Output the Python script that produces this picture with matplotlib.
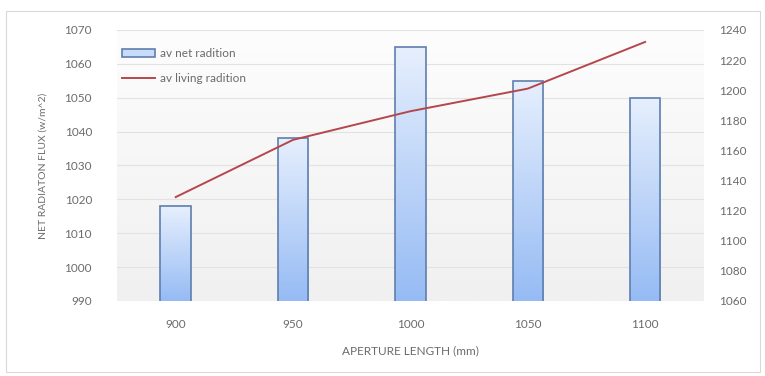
import numpy as np
import matplotlib.pyplot as plt
from matplotlib.patches import Rectangle
from matplotlib.colors import LinearSegmentedColormap

plt.rcParams['font.family'] = ['Lato', 'DejaVu Sans']

apertures = ['900', '950', '1000', '1050', '1100']
net_radiation = [1018, 1038, 1065, 1055, 1050]
living_radiation = [1129, 1167, 1186, 1201, 1232]

left_ticks = [990, 1000, 1010, 1020, 1030, 1040, 1050, 1060, 1070]
right_ticks = [1060, 1080, 1100, 1120, 1140, 1160, 1180, 1200, 1220, 1240]

txt = '#6b6b6b'
bar_edge = '#5f7fae'
line_col = '#b5474c'

fig = plt.figure(figsize=(7.65, 3.76), dpi=100)
fig.patches.append(Rectangle((0.008, 0.01), 0.986, 0.96, transform=fig.transFigure,
                             facecolor='none', edgecolor='#d9d9d9', lw=0.8))

ax = fig.add_axes([0.153, 0.1995, 0.767, 0.721])
x = np.arange(len(apertures))
xlim = (-0.5, len(apertures) - 0.5)

# plot area: soft vertical fade from light grey up to white
bg = LinearSegmentedColormap.from_list('bg', ['#f0f0f0', '#fdfdfd'])
ax.imshow(np.linspace(0, 1, 100).reshape(-1, 1), cmap=bg, aspect='auto',
          extent=[xlim[0], xlim[1], 990, 1070], origin='lower', zorder=0)
for t in left_ticks:
    ax.axhline(t, color='#e2e2e2', lw=0.8, zorder=1)

# bars: outline only, filled by a clipped blue gradient
grad = LinearSegmentedColormap.from_list('barfill', ['#96bbf4', '#e6effd'])
width = 0.26
bars = ax.bar(x, net_radiation, width=width, bottom=0, facecolor='none',
              edgecolor=bar_edge, lw=1.2, zorder=3)
for b, v in zip(bars, net_radiation):
    x0 = b.get_x()
    im = ax.imshow(np.linspace(0, 1, 100).reshape(-1, 1), cmap=grad, aspect='auto',
                   extent=[x0, x0 + width, 990, v], origin='lower', zorder=2)
    im.set_clip_path(b)
ax.set_ylim(990, 1070)
ax.set_xlim(*xlim)

ax.set_yticks(left_ticks)
ax.set_xticks(x)
ax.set_xticklabels(apertures)
ax.tick_params(axis='both', length=0, labelsize=8.5, labelcolor=txt)
ax.tick_params(axis='y', pad=18)
ax.tick_params(axis='x', pad=13)
for s in ax.spines.values():
    s.set_visible(False)
ax.set_ylabel('NET RADIATON FLUX (w/m^2)', fontsize=7.5, color=txt, labelpad=12)
ax.set_xlabel('APERTURE LENGTH (mm)', fontsize=8.5, color=txt, labelpad=11)

ax2 = ax.twinx()
ax2.set_ylim(1060, 1240)
ax2.plot(x, living_radiation, color=line_col, lw=1.4, zorder=4)
ax2.set_yticks(right_ticks)
ax2.tick_params(axis='y', length=0, labelsize=8.5, labelcolor=txt, pad=11)
for s in ax2.spines.values():
    s.set_visible(False)

handles = [bars, ax2.get_lines()[0]]
leg = ax2.legend(handles, ['av net radition', 'av living radition'],
                 loc='upper left', bbox_to_anchor=(0.0, 0.95), frameon=False,
                 fontsize=8.5, labelcolor=txt, handlelength=2.8, handletextpad=0.4,
                 labelspacing=1.2, borderaxespad=0)
leg.legend_handles[0].set_facecolor('#c8dbf8')

fig.savefig('out.png', dpi=100)
